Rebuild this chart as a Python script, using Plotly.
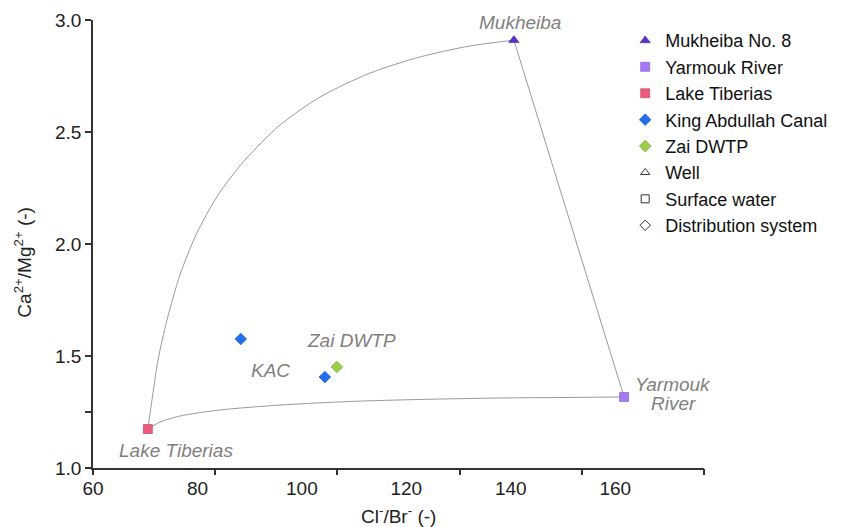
import plotly.graph_objects as go

# ---- data ----
samples = ["Mukheiba No. 8", "Yarmouk River", "Lake Tiberias", "King Abdullah Canal", "Zai DWTP"]
mukheiba_x = [140.6]
mukheiba_y = [2.91]
yarmouk_x = [161.7]
yarmouk_y = [1.317]
tiberias_x = [70.5]
tiberias_y = [1.174]
kac_x = [88.3, 104.4]
kac_y = [1.576, 1.406]
zai_x = [106.7]
zai_y = [1.451]

# mixing curves
arc_tm_x = [70.5, 71.3, 72.45, 74.17, 76.66, 79.72, 83.94, 89.11, 95.81, 103.47, 113.04, 122.62, 132.19, 140.6]
arc_tm_y = [1.174, 1.304, 1.482, 1.661, 1.862, 2.040, 2.219, 2.375, 2.531, 2.656, 2.763, 2.835, 2.884, 2.91]
arc_ty_x = [70.5, 72.83, 76.66, 84.32, 95.81, 109.21, 122.62, 137.94, 151.34, 161.7]
arc_ty_y = [1.174, 1.205, 1.232, 1.259, 1.281, 1.297, 1.306, 1.3125, 1.315, 1.317]
arc_my_x = [140.6, 161.7]
arc_my_y = [2.91, 1.317]

x_range = [60, 177]
y_range = [1.0, 3.0]
x_labels = [60, 80, 100, 120, 140, 160]
y_labels = [1.0, 1.5, 2.0, 2.5, 3.0]

FONT = "Arial, Liberation Sans, sans-serif"
LINE_GRAY = "#9a9a9a"
TXT_GRAY = "#7f7f7f"

fig = go.Figure()

for xs, ys in [(arc_tm_x, arc_tm_y), (arc_ty_x, arc_ty_y), (arc_my_x, arc_my_y)]:
    fig.add_trace(go.Scatter(x=xs, y=ys, mode="lines", line=dict(color=LINE_GRAY, width=1, shape="spline", smoothing=0.8),
                             showlegend=False, hoverinfo="skip"))

def pts(name, xs, ys, symbol, color, edge):
    fig.add_trace(go.Scatter(x=xs, y=ys, mode="markers", name=name,
                             marker=dict(symbol=symbol, size=9, color=color, line=dict(color=edge, width=0.6))))

pts(samples[0], mukheiba_x, mukheiba_y, "triangle-up", "#5a34c8", "#3a2090")
pts(samples[1], yarmouk_x, yarmouk_y, "square", "#a77af5", "#7a50d0")
pts(samples[2], tiberias_x, tiberias_y, "square", "#ee5a7a", "#b83a55")
pts(samples[3], kac_x, kac_y, "diamond", "#1f6fee", "#1550b8")
pts(samples[4], zai_x, zai_y, "diamond", "#9ccf48", "#6f9d2a")

for name, sym in [("Well", "triangle-up-open"), ("Surface water", "square-open"), ("Distribution system", "diamond-open")]:
    fig.add_trace(go.Scatter(x=[None], y=[None], mode="markers", name=name,
                             marker=dict(symbol=sym, size=8, color="#333333", line=dict(width=1))))

# invisible trace to carry the tick-mark axis
fig.add_trace(go.Scatter(x=x_range, y=[None, None], xaxis="x2", mode="markers", showlegend=False,
                         hoverinfo="skip", marker=dict(opacity=0)))

n_int = 5
tick_marks = [x_range[0] + i * (x_range[1] - x_range[0]) / n_int for i in range(n_int + 1)]

fig.update_layout(
    width=853, height=519,
    margin=dict(l=85, r=157, t=12, b=59),
    paper_bgcolor="white", plot_bgcolor="white",
    font=dict(family=FONT, size=19, color="#222222"),
    xaxis=dict(range=x_range, tickmode="array", tickvals=x_labels, ticks="", automargin=False,
               showline=True, linecolor="#333333", linewidth=1.5, showgrid=False, zeroline=False,
               tickfont=dict(size=19), ticklabelstandoff=2),
    xaxis2=dict(range=x_range, overlaying="x", anchor="y", side="bottom", tickmode="array", automargin=False,
                tickvals=tick_marks, ticks="outside", ticklen=6, tickwidth=1.5, tickcolor="#333333",
                showticklabels=False, showline=False, showgrid=False, zeroline=False),
    yaxis=dict(range=y_range, tickmode="array", tickvals=y_labels, ticktext=[f"{v:.1f}" for v in y_labels],
               ticks="outside", ticklen=6, tickwidth=1.5, tickcolor="#333333", automargin=False,
               showline=True, linecolor="#333333", linewidth=1.5, showgrid=False, zeroline=False,
               minor=dict(tickmode="array", tickvals=[1.25], ticks="outside", ticklen=6, tickwidth=1.5,
                          tickcolor="#333333"),
               tickfont=dict(size=19)),
    legend=dict(x=0.871, y=0.995, xanchor="left", yanchor="top", font=dict(size=18, color="#111111"),
                bgcolor="rgba(0,0,0,0)", tracegroupgap=0),
    showlegend=True,
)

ann = [
    dict(text="<i>Mukheiba</i>", x=141.7, y=2.988),
    dict(text="<i>Yarmouk</i>", x=171.1, y=1.371),
    dict(text="<i>River</i>", x=171.1, y=1.29),
    dict(text="<i>Lake Tiberias</i>", x=75.8, y=1.08),
    dict(text="<i>KAC</i>", x=94, y=1.435),
    dict(text="<i>Zai DWTP</i>", x=109.5, y=1.571),
]
for a in ann:
    fig.add_annotation(xref="x", yref="y", showarrow=False, xanchor="center", yanchor="middle",
                       font=dict(size=19, color=TXT_GRAY), **a)

fig.add_annotation(text="Cl<sup>-</sup>/Br<sup>-</sup> (-)", xref="paper", yref="paper",
                   x=0.5, y=-0.104, xanchor="center", yanchor="middle", showarrow=False,
                   font=dict(size=19, color="#222222"))
fig.add_annotation(text="Ca<sup>2+</sup>/Mg<sup>2+</sup> (-)", xref="paper", yref="paper",
                   x=-0.115, y=0.46, xanchor="center", yanchor="middle", textangle=-90, showarrow=False,
                   font=dict(size=19, color="#222222"))

fig.write_html("out.html")
